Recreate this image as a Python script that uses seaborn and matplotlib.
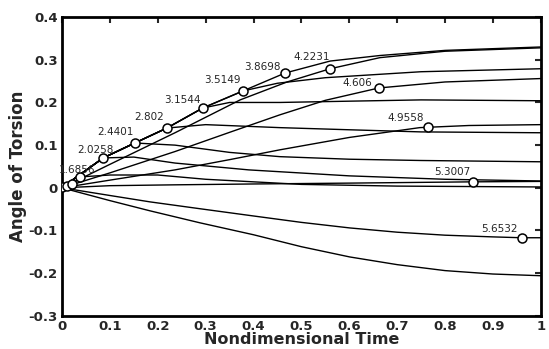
import matplotlib
matplotlib.use("Agg")
import matplotlib.pyplot as plt
import seaborn as sns
import pandas as pd

# torsion angle curves (time, angle), one per case
curve_t = {
    "1.6856": [0, 0.03, 0.1, 0.2, 0.3, 0.5, 0.7, 1.0],
    "2.0258": [0, 0.03, 0.086, 0.15, 0.236, 0.39, 0.6, 0.8, 1.0],
    "2.4401": [0, 0.03, 0.086, 0.152, 0.236, 0.35, 0.455, 0.6, 0.75, 1.0],
    "2.802": [0, 0.03, 0.086, 0.152, 0.219, 0.3, 0.455, 0.6, 0.75, 1.0],
    "3.1544": [0, 0.03, 0.086, 0.152, 0.219, 0.294, 0.35, 0.455, 0.6, 0.75, 1.0],
    "3.5149": [0, 0.03, 0.086, 0.152, 0.219, 0.294, 0.378, 0.45, 0.55, 0.664, 0.75, 1.0],
    "3.8698": [0, 0.03, 0.086, 0.152, 0.219, 0.294, 0.378, 0.466, 0.56, 0.664, 0.8, 1.0],
    "4.2231": [0, 0.1, 0.236, 0.372, 0.47, 0.56, 0.664, 0.8, 1.0],
    "4.606": [0, 0.1, 0.236, 0.35, 0.455, 0.55, 0.662, 0.8, 1.0],
    "4.9558": [0, 0.1, 0.236, 0.35, 0.455, 0.6, 0.747, 0.85, 1.0],
    "5.3007": [0, 0.1, 0.236, 0.4, 0.6, 0.858, 1.0],
    "5.6532": [0, 0.1, 0.184, 0.288, 0.4, 0.5, 0.601, 0.7, 0.8, 0.9, 0.96, 1.0],
    "6.0": [0, 0.1, 0.184, 0.288, 0.4, 0.5, 0.601, 0.7, 0.8, 0.9, 1.0],
}
curve_y = {
    "1.6856": [0, 0.025, 0.03, 0.03, 0.02, 0.008, 0.004, 0.002],
    "2.0258": [0, 0.025, 0.07, 0.072, 0.058, 0.042, 0.028, 0.02, 0.016],
    "2.4401": [0, 0.025, 0.07, 0.105, 0.1, 0.083, 0.073, 0.067, 0.064, 0.061],
    "2.802": [0, 0.025, 0.07, 0.105, 0.14, 0.148, 0.141, 0.136, 0.131, 0.129],
    "3.1544": [0, 0.025, 0.07, 0.105, 0.14, 0.187, 0.2, 0.2, 0.203, 0.206, 0.204],
    "3.5149": [0, 0.025, 0.07, 0.105, 0.14, 0.187, 0.227, 0.245, 0.258, 0.266, 0.272, 0.279],
    "3.8698": [0, 0.025, 0.07, 0.105, 0.14, 0.187, 0.227, 0.269, 0.297, 0.31, 0.322, 0.33],
    "4.2231": [0, 0.055, 0.129, 0.206, 0.248, 0.279, 0.305, 0.32, 0.328],
    "4.606": [0, 0.035, 0.085, 0.13, 0.171, 0.205, 0.234, 0.248, 0.256],
    "4.9558": [0, 0.018, 0.042, 0.066, 0.089, 0.118, 0.141, 0.146, 0.148],
    "5.3007": [0, 0.005, 0.007, 0.009, 0.011, 0.014, 0.015],
    "5.6532": [0, -0.018, -0.033, -0.049, -0.066, -0.081, -0.094, -0.104, -0.111, -0.115, -0.117, -0.117],
    "6.0": [0, -0.03, -0.054, -0.082, -0.11, -0.138, -0.162, -0.18, -0.194, -0.202, -0.206],
}

# labelled circles on the curves
mark_t = [0.038, 0.086, 0.152, 0.219, 0.294, 0.378, 0.466, 0.56, 0.662, 0.764, 0.858, 0.96]
mark_y = [0.026, 0.07, 0.105, 0.14, 0.187, 0.227, 0.269, 0.279, 0.234, 0.143, 0.014, -0.117]
mark_text = ["1.6856", "2.0258", "2.4401", "2.802", "3.1544", "3.5149",
             "3.8698", "4.2231", "4.606", "4.9558", "5.3007", "5.6532"]
# extra circles piled up at the origin
origin_t = [0.0, 0.01, 0.02]
origin_y = [0.002, 0.004, 0.01]

rows = []
for name in curve_t:
    for t, a in zip(curve_t[name], curve_y[name]):
        rows.append({"case": name, "t": t, "angle": a})
df = pd.DataFrame(rows)
marks = pd.DataFrame({"t": mark_t + origin_t, "angle": mark_y + origin_y})

sns.set_style("white")
plt.rcParams["font.family"] = ["DejaVu Sans"]

fig = plt.figure(figsize=(5.49, 3.49), dpi=100)
ax = fig.add_axes([0.113, 0.095, 0.872, 0.856])

sns.lineplot(data=df, x="t", y="angle", units="case", estimator=None,
             color="black", linewidth=1.0, ax=ax, legend=False)
sns.scatterplot(data=marks, x="t", y="angle", ax=ax, s=42, marker="o",
                facecolor="white", edgecolor="black", linewidth=1.1, zorder=5)

# label offsets in pixels (dx, dy up) from circle to text centre
lab_dx = [-3, -8, -19, -18, -20, -21, -23, -18, -22, -22, -20, -22]
lab_dy = [7, 8, 11, 11, 8, 11, 6, 12, 5, 9, 10, 9]
for t, a, s, dx, dy in zip(mark_t, mark_y, mark_text, lab_dx, lab_dy):
    ax.annotate(s, (t, a), xytext=(dx * 0.72, dy * 0.72), textcoords="offset points",
                ha="center", va="center", fontsize=7.5)

ax.set_xlim(0, 1)
ax.set_ylim(-0.3, 0.4)
ax.set_xticks([0, 0.1, 0.2, 0.3, 0.4, 0.5, 0.6, 0.7, 0.8, 0.9, 1])
ax.set_xticklabels(["0", "0.1", "0.2", "0.3", "0.4", "0.5", "0.6", "0.7", "0.8", "0.9", "1"])
ax.set_yticks([-0.3, -0.2, -0.1, 0, 0.1, 0.2, 0.3, 0.4])
ax.set_yticklabels(["-0.3", "-0.2", "-0.1", "0", "0.1", "0.2", "0.3", "0.4"])
ax.tick_params(direction="in", length=4, width=1.5, labelsize=9.5, pad=3,
               top=True, right=True)
for lab in ax.get_xticklabels() + ax.get_yticklabels():
    lab.set_fontweight("bold")
for sp in ax.spines.values():
    sp.set_linewidth(2)
    sp.set_color("black")

ax.set_xlabel("Nondimensional Time", fontsize=11.5, fontweight="bold", va="center")
ax.xaxis.set_label_coords(0.5, -0.08)
ax.set_ylabel("Angle of Torsion", fontsize=12, fontweight="bold", va="center")
ax.yaxis.set_label_coords(-0.092, 0.5)

fig.savefig("out.png", dpi=100)
